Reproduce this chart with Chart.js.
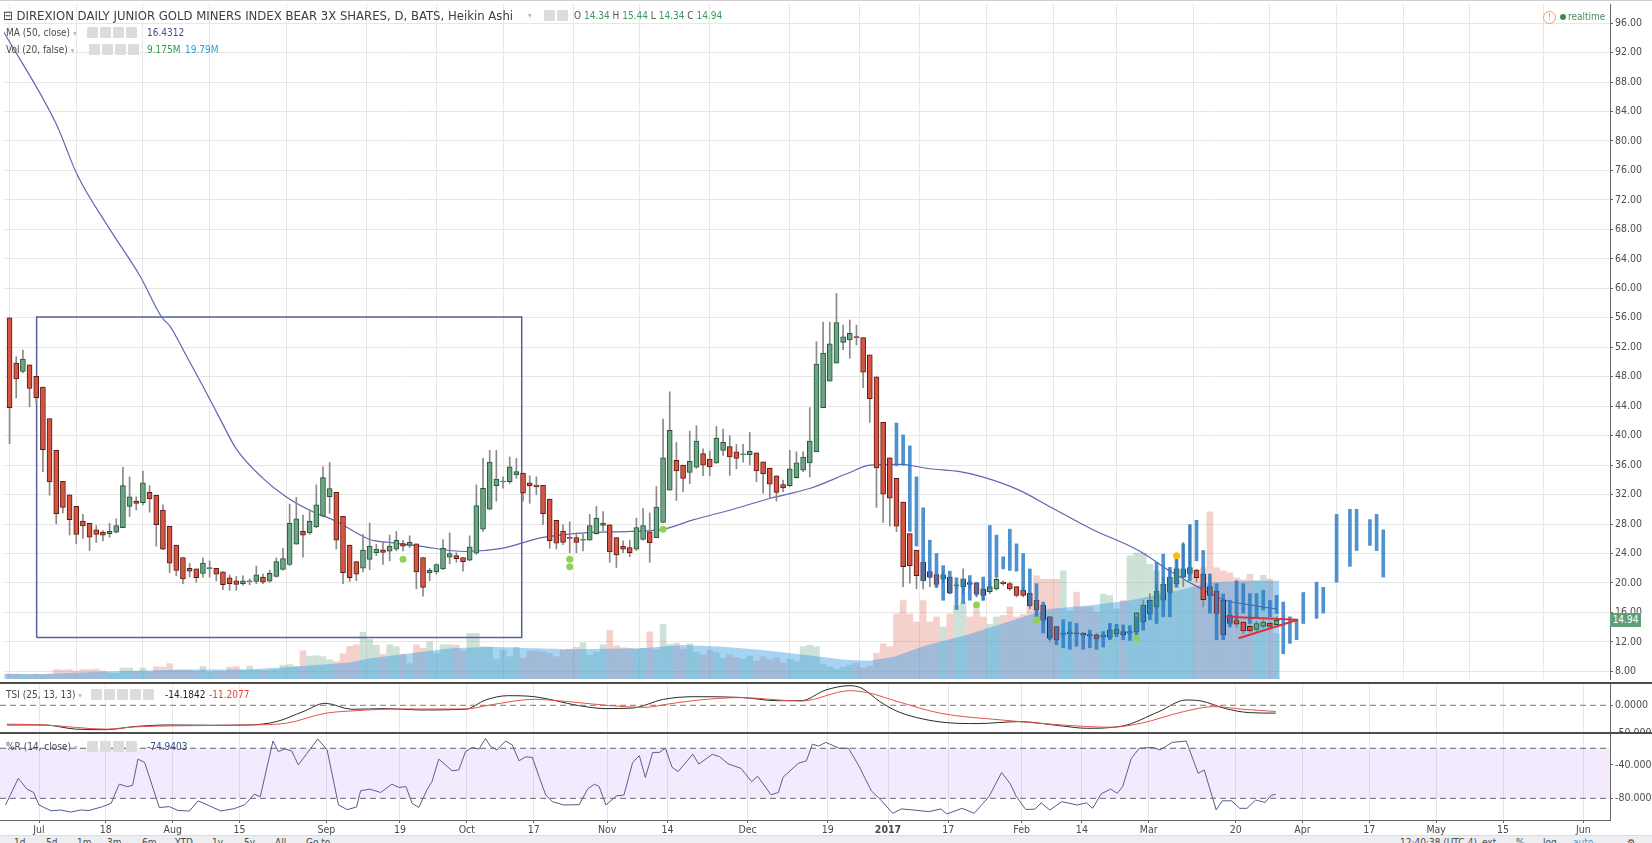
<!DOCTYPE html>
<html>
<head>
<meta charset="utf-8">
<title>JDST Heikin Ashi</title>
<script src="https://cdn.jsdelivr.net/npm/chart.js@4.4.1/dist/chart.umd.min.js"></script>
<style>
  html, body { margin: 0; padding: 0; background: #fff; }
  body { width: 1652px; height: 843px; overflow: hidden; position: relative;
         font-family: "Liberation Sans Narrow", "DejaVu Sans Condensed", "Liberation Sans", sans-serif; color: #4a4a4a; }
  canvas { position: absolute; left: 0; display: block; }
  .t { position: absolute; white-space: nowrap; font-size: 10px; line-height: 14px; z-index: 5; }
  .ico { position: absolute; width: 11px; height: 11px; background: #dcdcdc; border-radius: 1px; z-index: 5; }
  .sep { position: absolute; left: 0; width: 1652px; height: 2px; background: #4d4d4d; z-index: 4; }
  .arr { color: #bbb; font-size: 8px; }
  #toolbar { position: absolute; left: 0; top: 835px; width: 1652px; height: 12px; background: #eceef1; border-top: 1px solid #d9dce0; z-index: 3; }
  #lastLbl { position: absolute; left: 1610px; width: 31px; height: 14px; background: #5d9f76; color: #fff;
             font-size: 10px; line-height: 14px; text-align: center; z-index: 6; }
</style>
</head>
<body>

<canvas id="mainChart" width="1652" height="683" style="top:0"></canvas>
<canvas id="tsiChart" width="1652" height="50" style="top:683px"></canvas>
<canvas id="wrChart" width="1652" height="103" style="top:733px"></canvas>

<div class="sep" style="top:0;height:1px;background:#cfcfcf"></div>
<div class="sep" style="top:682px"></div>
<div class="sep" style="top:732px"></div>

<!-- main pane legend -->
<div class="t" style="left:3px;top:8px;font-size:13px;line-height:16px;color:#3d3d3d">⊟ DIREXION DAILY JUNIOR GOLD MINERS INDEX BEAR 3X SHARES, D, BATS, Heikin Ashi</div>
<div class="t arr" style="left:528px;top:9px">▾</div>
<div class="ico" style="left:544px;top:10px"></div><div class="ico" style="left:557px;top:10px"></div>
<div class="t" style="left:574px;top:9px;color:#555">O <span style="color:#3c9a5f">14.34</span> H <span style="color:#3c9a5f">15.44</span> L <span style="color:#3c9a5f">14.34</span> C <span style="color:#3c9a5f">14.94</span></div>

<div class="t" style="left:6px;top:26px">MA (50, close) <span class="arr">▾</span></div>
<div class="ico" style="left:87px;top:27px"></div><div class="ico" style="left:100px;top:27px"></div>
<div class="ico" style="left:113px;top:27px"></div><div class="ico" style="left:126px;top:27px"></div>
<div class="t" style="left:147px;top:26px;color:#49499a">16.4312</div>

<div class="t" style="left:6px;top:43px">Vol (20, false) <span class="arr">▾</span></div>
<div class="ico" style="left:89px;top:44px"></div><div class="ico" style="left:102px;top:44px"></div>
<div class="ico" style="left:115px;top:44px"></div><div class="ico" style="left:128px;top:44px"></div>
<div class="t" style="left:147px;top:43px;color:#3a9a4a">9.175M</div>
<div class="t" style="left:185px;top:43px;color:#2c9fd6">19.79M</div>

<div style="position:absolute;left:1543px;top:11px;width:11px;height:11px;border:1px solid #eea070;border-radius:50%;color:#e88a3a;font-size:9px;line-height:11px;text-align:center;z-index:5">!</div>
<div style="position:absolute;left:1560px;top:14px;width:6px;height:6px;background:#3f8a55;border-radius:50%;z-index:5"></div>
<div class="t" style="left:1568px;top:10px;color:#4d8a5c">realtime</div>

<!-- TSI pane legend -->
<div class="t" style="left:6px;top:688px">TSI (25, 13, 13) <span class="arr">▾</span></div>
<div class="ico" style="left:91px;top:689px"></div><div class="ico" style="left:104px;top:689px"></div>
<div class="ico" style="left:117px;top:689px"></div><div class="ico" style="left:130px;top:689px"></div>
<div class="ico" style="left:143px;top:689px"></div>
<div class="t" style="left:165px;top:688px;color:#222">-14.1842</div>
<div class="t" style="left:209px;top:688px;color:#e0443a">-11.2077</div>

<!-- %R pane legend -->
<div class="t" style="left:6px;top:740px">%R (14, close) <span class="arr">▾</span></div>
<div class="ico" style="left:87px;top:741px"></div><div class="ico" style="left:100px;top:741px"></div>
<div class="ico" style="left:113px;top:741px"></div><div class="ico" style="left:126px;top:741px"></div>
<div class="t" style="left:147px;top:740px;color:#2f4a86">-74.9403</div>

<div id="lastLbl">14.94</div>

<div id="toolbar"></div>
<div class="t" style="left:14px;top:836px">1d</div>
<div class="t" style="left:46px;top:836px">5d</div>
<div class="t" style="left:77px;top:836px">1m</div>
<div class="t" style="left:107px;top:836px">3m</div>
<div class="t" style="left:142px;top:836px">6m</div>
<div class="t" style="left:175px;top:836px">YTD</div>
<div class="t" style="left:212px;top:836px">1y</div>
<div class="t" style="left:244px;top:836px">5y</div>
<div class="t" style="left:275px;top:836px">All</div>
<div class="t" style="left:306px;top:836px">Go to...</div>
<div class="t" style="left:1400px;top:836px">12:40:38 (UTC-4)</div>
<div class="t" style="left:1482px;top:836px">ext</div>
<div class="t" style="left:1516px;top:836px">%</div>
<div class="t" style="left:1543px;top:836px">log</div>
<div class="t" style="left:1573px;top:836px;color:#3b9ad9">auto</div>
<div class="t" style="left:1627px;top:836px">⚙</div>

<script>
// Heikin Ashi candles, one per trading day; bar index 0 = 1 Jul 2016
const FIRST_BAR = -5;
const haOpen = [
  56.0, 49.84, 48.7, 49.6, 48.05,
  46.6, 42.3, 38.0, 33.8, 31.95,  30.4, 28.4, 28.1, 27.2, 26.9,
  26.7, 26.9, 27.5, 30.4, 31.1,   30.9, 32.3, 31.9, 29.9, 27.7,
  25.15, 23.45, 22.0, 21.9, 21.3, 21.95, 22.0, 21.5, 20.7, 20.3,
  19.9, 20.15, 20.2, 20.8, 20.25, 20.9, 21.85, 22.5, 25.25, 27.0,
  26.8, 27.6, 29.05, 31.7, 32.3,  29.05, 25.15, 22.9, 22.0, 23.2,
  24.1, 24.5, 24.3, 24.6, 25.35,  25.1, 25.3, 23.45, 21.4, 21.5,
  21.9, 23.5, 23.7, 23.45, 23.1,  24.05, 27.3, 30.0, 33.2, 33.7,
  33.75, 34.65, 34.9, 33.6, 33.3, 33.25, 31.4, 28.5, 27.05, 26.2,
  26.15, 25.8, 25.8, 26.7, 27.8,  27.9, 26.15, 25.0, 24.8, 24.6,
  25.9, 26.95, 26.15, 28.2, 32.6, 36.65, 36.0, 35.0, 35.7, 37.55,
  36.8, 36.3, 38.0, 38.5, 37.8,   37.4, 37.4, 37.65, 36.45, 35.6,
  34.55, 33.35, 33.2, 34.3, 35.3, 36.3, 37.8, 43.8, 47.4, 49.85,
  52.65, 52.98, 53.4, 53.3, 50.95, 47.97, 41.8, 37.0, 34.2, 30.97,
  26.7, 24.45, 22.8, 21.55, 21.15, 20.5, 20.8, 19.6, 19.5, 20.05,
  19.97, 19.2, 18.8, 19.2, 20.1,  19.9, 19.5, 19.0, 18.6, 17.65,
  16.98, 15.4, 14.07, 13.0, 13.1, 13.2, 13.15, 13.0, 12.95, 12.7,
  12.6, 13.1, 13.4, 13.2, 13.4,   14.74, 15.8, 16.75, 17.65, 18.7,
  19.9, 20.8, 21.3, 21.75, 21.2,  19.5, 18.9, 17.65, 15.6, 14.9,
  14.7, 14.1, 13.7, 14.1, 14.55,  14.34
];
const haHigh = [
  56.0, 50.7, 51.6, 49.6, 48.05,
  46.6, 42.3, 38.0, 33.8, 31.95,  30.4, 29.3, 28.1, 27.8, 27.1,
  28.1, 28.7, 35.7, 34.4, 31.7,   35.2, 33.2, 31.9, 30.6, 27.7,
  25.15, 23.45, 22.65, 21.9, 23.4, 23.0, 22.0, 21.5, 21.1, 20.9,
  20.95, 20.55, 22.3, 21.2, 21.75, 23.4, 24.7, 30.7, 31.6, 29.2,
  29.9, 33.3, 35.75, 36.35, 32.3, 29.05, 25.15, 22.9, 26.6, 28.15,
  25.25, 25.5, 26.5, 27.0, 25.8,  26.4, 25.3, 23.45, 22.0, 22.6,
  25.9, 26.8, 24.1, 23.45, 26.4,  33.3, 36.9, 38.0, 38.0, 34.4,
  37.1, 36.9, 34.9, 34.55, 34.4,  33.25, 31.4, 28.5, 27.9, 28.3,
  26.8, 26.6, 29.3, 30.4, 29.7,   27.9, 26.15, 25.7, 25.8, 28.8,
  30.1, 29.5, 33.1, 42.25, 45.95, 39.1, 36.0, 40.6, 41.35, 38.2,
  37.9, 41.25, 40.9, 40.0, 38.8,  38.8, 40.45, 37.65, 36.45, 35.6,
  34.55, 33.95, 38.0, 37.8, 37.8, 43.8, 52.75, 55.4, 55.4, 59.3,
  55.0, 55.7, 55.0, 53.3, 50.95,  47.97, 41.8, 37.0, 34.2, 30.97,
  26.7, 24.45, 22.8, 21.55, 21.15, 21.5, 20.8, 20.0, 21.9, 20.3,
  19.97, 19.2, 20.3, 20.8, 20.3,  20.1, 19.5, 19.4, 18.6, 17.65,
  16.98, 15.4, 14.07, 13.6, 13.8, 13.4, 13.3, 13.3, 13.2, 13.3,
  14.5, 14.3, 14.1, 13.7, 16.0,   17.65, 18.55, 19.8, 20.8, 22.1,
  23.2, 25.5, 27.9, 21.9, 21.2,   21.2, 18.9, 17.65, 17.0, 15.2,
  14.7, 14.2, 14.8, 15.0, 14.7,   15.44
];
const haLow = [
  38.9, 45.1, 48.5, 43.9, 44.25,
  35.1, 31.9, 28.0, 29.5, 26.5,   25.3, 26.05, 24.4, 25.5, 25.7,
  26.2, 26.8, 27.5, 29.0, 29.9,   30.6, 29.6, 25.0, 24.5, 21.4,
  21.0, 19.9, 20.8, 20.1, 20.8,   20.8, 20.3, 19.1, 19.0, 19.0,
  19.7, 19.75, 19.9, 19.9, 20.1,  20.8, 21.75, 22.35, 25.25, 23.5,
  26.6, 27.5, 28.95, 29.45, 24.6, 19.9, 20.2, 20.3, 21.5, 21.8,
  23.7, 22.5, 23.0, 24.35, 24.35, 24.8, 19.2, 18.2, 20.3, 21.2,
  21.8, 22.6, 22.8, 21.6, 23.0,   23.9, 27.0, 29.95, 31.1, 32.85,
  33.5, 34.2, 31.1, 30.8, 31.96,  27.9, 24.7, 24.6, 25.2, 24.1,
  24.1, 24.35, 25.8, 26.6, 27.05, 22.8, 22.1, 24.1, 23.55, 24.4,
  25.8, 22.8, 26.15, 28.2, 32.6,  31.2, 32.4, 33.5, 35.55, 34.55,
  34.55, 36.2, 37.3, 34.6, 35.5,  36.4, 36.0, 33.75, 32.2, 31.5,
  31.1, 32.4, 33.1, 34.2, 35.1,   34.4, 37.8, 43.8, 47.4, 49.85,
  51.65, 50.5, 52.3, 46.5, 41.8,  30.25, 28.2, 27.7, 26.95, 19.5,
  19.97, 19.2, 19.2, 19.5, 19.4,  20.0, 18.55, 19.2, 18.55, 19.2,
  18.1, 17.65, 18.55, 19.0, 19.7, 18.99, 18.1, 18.1, 16.5, 15.9,
  14.5, 12.05, 11.8, 12.6, 12.8,  12.9, 12.7, 12.5, 12.2, 12.3,
  12.5, 13.0, 12.8, 13.0, 13.2,   14.5, 15.7, 16.5, 17.4, 18.6,
  19.7, 19.5, 21.0, 20.1, 16.75,  16.5, 14.96, 12.5, 13.9, 13.9,
  13.1, 13.3, 13.4, 13.9, 14.0,   14.34
];
const haClose = [
  43.8, 47.7, 50.4, 46.4, 45.15,
  38.1, 33.7, 29.4, 30.25, 28.6,  26.6, 27.75, 26.2, 26.6, 26.5,
  27.0, 27.8, 33.2, 31.7, 30.8,   33.6, 31.4, 27.9, 24.6, 22.7,
  21.7, 20.55, 21.6, 20.7, 22.7,  22.05, 21.2, 19.75, 19.9, 19.8,
  20.3, 20.25, 21.1, 20.1, 21.3,  22.9, 23.3, 28.1, 28.7, 26.5,
  28.4, 30.6, 34.3, 32.8, 25.8,   21.4, 20.7, 21.2, 24.45, 25.0,
  24.6, 24.15, 25.0, 25.8, 25.0,  25.5, 21.5, 19.4, 21.7, 22.5,
  24.7, 24.0, 23.3, 22.9, 24.9,   30.5, 32.85, 36.4, 34.1, 33.8,
  35.75, 35.1, 32.2, 33.2, 33.05, 29.4, 25.7, 25.4, 25.5, 26.05,
  25.5, 25.9, 27.8, 28.8, 28.1,   24.2, 23.8, 24.6, 24.1, 27.5,
  27.8, 25.45, 30.3, 37.0, 40.7,  35.2, 34.2, 36.5, 39.25, 36.0,
  35.75, 39.65, 39.1, 37.1, 36.9, 37.5, 37.85, 35.2, 34.8, 33.4,
  32.3, 32.9, 35.5, 36.3, 37.1,   39.25, 49.7, 51.2, 52.45, 55.35,
  53.4, 53.9, 53.3, 48.6, 45.0,   35.6, 32.05, 31.5, 27.7, 22.2,
  22.35, 21.0, 20.3, 20.8, 19.8,  21.1, 18.65, 19.7, 20.55, 19.8,
  18.55, 18.3, 19.5, 20.5, 19.9,  19.2, 18.3, 18.3, 16.84, 16.3,
  14.96, 12.5, 12.28, 13.2, 13.35, 13.1, 12.9, 12.8, 12.4, 12.9,
  13.6, 13.7, 12.95, 13.4, 15.95, 16.98, 17.65, 18.9, 19.8, 20.8,
  21.9, 21.9, 22.1, 20.7, 17.74,  18.3, 15.86, 12.95, 14.5, 14.4,
  13.5, 13.5, 14.5, 14.7, 14.1,   14.94
];
// daily volume, millions
const volume = [
  1.0, 1.0, 0.9, 0.9, 1.0,
  0.9, 1.0, 1.9, 1.8, 1.9,  1.6, 1.9, 1.9, 2.0, 1.6,  1.2, 1.1, 2.2, 2.2, 1.5,
  2.2, 1.4, 2.5, 2.4, 3.1,  1.8, 1.8, 1.7, 1.6, 2.5,  1.4, 1.6, 1.5, 2.4, 2.5,
  1.8, 2.6, 1.8, 1.7, 1.8,  1.9, 2.8, 2.9, 2.5, 5.7,  4.6, 4.7, 4.5, 3.9, 3.5,
  5.1, 6.6, 6.9, 9.4, 8.0,  6.8, 5.0, 6.9, 6.5, 5.0,  3.1, 6.9, 6.2, 7.5, 5.1,
  6.9, 6.9, 6.8, 5.7, 9.2,  9.2, 6.5, 6.4, 3.9, 5.8,  4.5, 6.4, 4.2, 5.7, 5.7,
  5.5, 5.2, 4.5, 5.7, 6.0,  6.4, 7.3, 4.8, 5.4, 6.9,  9.8, 6.7, 6.3, 6.2, 6.0,
  6.2, 9.5, 6.0, 11.0, 7.0, 7.2, 6.0, 7.1, 5.4, 4.8,  5.8, 5.3, 4.2, 4.9, 4.3,
  4.0, 4.6, 3.6, 4.5, 3.9,  4.3, 3.2, 4.0, 3.5, 6.5,  6.8, 6.5, 3.0, 2.5, 2.0,
  2.4, 2.8, 3.2, 2.2, 2.6,  5.2, 7.1, 6.5, 13.1, 15.8, 13.1, 11.5, 15.8, 11.5, 12.5,
  10.5, 13.1, 14.8, 15.5, 12.5, 14.1, 12.5, 11.0, 12.5, 12.8, 14.5, 12.5, 13.0, 14.5, 20.8,
  20.1, 20.1, 20.1, 21.8, 13.8, 17.5, 14.5, 14.5, 13.5, 17.1, 16.8, 14.1, 15.8, 24.8, 25.4,
  25.4, 23.1, 21.8, 19.1, 20.4, 22.4, 20.0, 22.1, 20.5, 22.4, 33.7, 22.4, 21.8, 21.4, 20.4,
  20.0, 21.1, 19.8, 20.9, 20.1, 9.175
];
// Vol MA(20), sampled along the area edge
const volMaIdx = [-5.8, 0.3, 9.4, 21.6, 30.8, 36.9, 46.1, 49.1, 55.2, 61.3, 67.4, 73.5, 79.6, 89.8, 95.9, 102,
                  107.9, 114.1, 120.2, 123.9, 127.6, 132.6, 138.5, 144.6, 150.7, 156.8, 162.9, 169.1, 175.1, 181.3, 185.4];
const volMaVal = [1.0, 1.0, 1.5, 1.9, 1.9, 2.4, 3.3, 4.2, 5.2, 6.2, 6.5, 6.2, 6.0, 6.2, 6.85, 6.5,
                  5.85, 4.9, 3.9, 3.7, 4.5, 6.85, 8.85, 11.5, 14.1, 14.8, 15.8, 17.5, 19.5, 19.8, 19.8];
// MA(50, close)
const maIdx = [-6, 2.0, 5.2, 9.9, 14.6, 17.8, 19.1, 21.3, 24.0, 26.6, 29.0, 33.0, 36.4, 40.4, 43.9,
               49.0, 51.9, 56.4, 63.3, 68.8, 74.8, 81.2, 88.2, 93.1, 97.6, 102.7, 109.1, 115.1, 121.0, 124.0,
               128.5, 133.0, 137.5, 140.9, 146.4, 151.3, 157.3, 164.3, 169.3, 173.3, 177.3, 181.2, 185.2];
const maVal = [95.0, 82.3, 75.3, 68.2, 61.6, 56.1, 54.8, 51.2, 46.7, 42.2, 38.2, 34.2, 31.75, 29.7, 28.4,
               25.9, 25.5, 25.0, 24.27, 24.7, 26.15, 26.8, 27.0, 27.3, 28.6, 29.8, 31.5, 32.85, 35.0, 36.0,
               36.1, 35.5, 35.1, 34.4, 32.6, 30.2, 27.3, 24.4, 21.45, 19.4, 17.65, 17.0, 16.43];
// projected bars pattern (blue), from bar 128
const PAT_FIRST = 128;
const patHigh = [41.7, 40.1, 38.6, 34.4, 30.2, 25.8, 24.0, 22.35, 21.6, 20.7,
  20.3, 21.0, 20.1, 20.8, 27.8, 26.5, 23.55, 27.3, 25.3, 24.0,
  21.9, 19.9, 17.4, 15.4, 14.1, 15.0, 14.7, 14.5, 13.2, 13.6,
  13.0, 13.4, 14.5, 14.4, 14.3, 14.2, 15.4, 16.75, 17.6, 22.8,
  23.9, 22.1, 23.4, 25.3, 27.9, 28.5, 24.4, 21.2, 19.9, 18.5,
  17.65, 20.3, 19.9, 18.55, 18.55, 19.0, 17.65, 18.3, 17.4, 15.4,
  15.0, 18.7, null, 20.1, 19.4, null, 29.3, null, 30.0, 30.0,
  null, 28.6, 29.3, 27.2];
const patLow = [35.9, 36.0, 27.0, 25.0, 20.3, 20.7, 19.4, 17.65, 18.55, 16.4,
  17.2, 17.65, 18.3, 17.65, 19.2, 20.8, 21.9, 21.7, 21.6, 18.8,
  17.0, 15.0, 13.2, 12.3, 11.6, 11.2, 11.0, 11.4, 11.0, 11.2,
  11.0, 11.3, 12.3, 12.7, 12.3, 12.2, 12.95, 13.6, 15.0, 14.5,
  15.4, 15.4, 19.4, 20.7, 20.3, 23.0, 19.4, 15.9, 12.3, 12.3,
  14.1, 15.0, 15.9, 14.5, 15.4, 16.3, 15.4, 15.85, 10.4, 11.8,
  12.3, 14.5, null, 15.2, 15.9, null, 20.1, null, 22.25, 24.4,
  null, 25.1, 24.4, 20.8];
// signal dots
const dotIdx = [54, 79, 79, 93, 140, 149, 164];
const dotVal = [23.2, 23.2, 22.2, 27.3, 17.0, 14.96, 12.4];
const starIdx = [170];
const starVal = [23.7];
// drawings
const boxIdx = [-0.94, 71.8];
const boxVal = [12.6, 56.1];
const wedgeIdx = [177.5, 188.2, 179.3];
const wedgeVal = [15.4, 15.0, 12.5];
// TSI (25,13,13)
const tsiIdx = [-4.8, 0.8, 5.5, 10.1, 14.2, 19.6, 26.1, 31.5, 35.5, 39.5, 42.8, 46.8, 52.1, 56.9, 63.8, 66.8,
                70.1, 74.1, 80.7, 84.8, 88.8, 93.4, 98.1, 105, 110.4, 114, 117.7, 121.3, 123.1, 125.8, 128.5,
                132.2, 135.8, 140.3, 146.7, 153, 156.7, 162.1, 167.5, 171.6, 173.9, 177.5, 181.1, 185];
const tsiVal = [-35.5, -35.5, -43, -44, -38.5, -35.5, -36, -35.5, -29.5, -11.5, 3.6, -7.2, -6, -8.5, -7.2, 9.5,
                17.3, 15.5, -0.5, -6, -5, 10.7, 15.5, 14.2, 8.3, 8.3, 27.6, 35.4, 30.6, 6.5, -11.5,
                -24.7, -31.3, -33, -29.5, -37.3, -41.5, -37.3, -11.5, 9.5, 7.6, -6, -13.3, -14.18];
const sigIdx = [-4.8, 0.8, 10.1, 14.2, 20.8, 31.5, 36.9, 42.8, 47.5, 54.2, 63.8, 67.5, 74.1, 78.1, 87.5, 90.8,
                94.2, 98.7, 105, 114, 121.3, 124, 128.5, 134.9, 144, 153, 160.3, 164.8, 171.2, 175.7, 180.1, 185];
const sigVal = [-34, -35.5, -43, -39, -37, -35.5, -32.5, -14.5, -9.7, -6.6, -6.6, 0.6, 10.8, 7.7, -2.5, -3.6,
                2.4, 9.5, 13.8, 7.6, 26.3, 22.6, 6.5, -14.5, -26.5, -35.5, -39.6, -32.5, -11.5, -2.4, -7.2, -11.21];
// Williams %R (14)
const wrIdx = [-5.0, -3.1, -1.8, -0.8, 0, 1.8, 3.2, 4.8, 6.2, 7.5, 9.5, 10.8, 12.0, 13.2, 14.0, 14.8, 15.8, 18.0,
  19.5, 20.8, 22.5, 23.8, 25.5, 27.2, 29.2, 30.8, 32.2, 33.1, 35.0, 35.8, 36.8, 37.8, 38.8, 40.1, 41.7, 43.1,
  44.8, 46.1, 47.5, 48.1, 49.5, 51.1, 52.8, 53.8, 54.9, 55.8, 56.8, 58.1, 58.8, 59.8, 60.8, 61.8, 62.8, 63.8,
  64.8, 65.8, 66.8, 67.5, 68.5, 69.8, 70.8, 71.8, 72.8, 73.8, 74.8, 75.8, 76.8, 78.5, 80.8, 82.1, 83.1, 83.8,
  84.8, 86.4, 87.5, 88.8, 89.8, 90.7, 91.8, 92.8, 93.7, 94.7, 95.6, 97.8, 98.7, 100.7, 101.8, 103.1, 105.0,
  106.6, 107.5, 109.5, 110.6, 111.3, 113.6, 114.8, 115.7, 116.6, 117.7, 119.7, 121.1, 122.7, 124.5, 125.8,
  127.7, 129.0, 130.8, 133.1, 134.9, 135.8, 138.1, 139.9, 142.1, 144.0, 145.3, 146.2, 147.6, 149.0, 149.9,
  151.2, 153.0, 155.3, 156.7, 157.6, 158.9, 160.3, 161.3, 162.1, 163.4, 164.6, 166.6, 167.7, 169.5, 171.6,
  173.4, 174.3, 176.1, 177.0, 178.4, 179.6, 180.7, 182.0, 183.4, 184.3, 185.0];
const wrVal = [-88, -56, -69, -73, -88, -95, -94, -96.5, -94, -94.6, -90, -86, -63, -66, -64.5, -33, -37, -91,
  -90, -94.6, -95.2, -83, -89, -95.2, -92.4, -87.6, -75, -78, -11.3, -24, -20.8, -23.2, -40, -26, -8.9, -22,
  -88, -93.6, -90.4, -71, -69, -73, -63, -67, -66, -86, -91, -69, -59.6, -33, -40, -47, -46, -24,
  -19, -21, -8.2, -17.4, -22, -11.3, -16, -35, -30.3, -31, -54, -76, -84, -88, -87.6, -68.5, -63, -66,
  -88, -77, -76, -37, -28.8, -55, -25, -25, -20, -42.8, -48, -27, -39, -27.3, -30, -38.8, -44,
  -60, -53.5, -75.8, -73, -54.7, -38, -35, -15, -17.4, -13, -20, -20, -42, -71, -81,
  -98, -92.7, -94, -96, -92.7, -98.8, -92, -98, -78, -49, -62.8, -78, -93.4, -93, -85.5,
  -94, -84, -88, -85.5, -92, -74.6, -69, -74, -66, -32, -20, -19, -22, -13, -11.3,
  -50, -46, -94, -83, -83, -92, -92, -82, -85, -76.6, -74.94];
// axes
const tickIdx = [0, 10, 20, 30, 43, 54, 64, 74, 85, 94, 106, 118, 127, 136, 147, 156, 166, 179, 189, 199, 209, 219, 231];
const tickLabels = ['Jul', '18', 'Aug', '15', 'Sep', '19', 'Oct', '17', 'Nov', '14', 'Dec', '19', '2017',
                    '17', 'Feb', '14', 'Mar', '20', 'Apr', '17', 'May', '15', 'Jun'];
const priceTicks = [8, 12, 16, 20, 24, 28, 32, 36, 40, 44, 48, 52, 56, 60, 64, 68, 72, 76, 80, 84, 88, 92, 96];
const tsiTicks = [0, -50];
const wrTicks = [-40, -80];

const FONT = '"Liberation Sans Narrow","DejaVu Sans Condensed","Liberation Sans",sans-serif';
const X_MIN = -5.834, X_MAX = 235.0;
const GRID = '#e7e7e7';
const UP = '#6ba583', UP_EDGE = '#225437', DOWN = '#d75442', DOWN_EDGE = '#5b1a13';

Chart.defaults.font.family = FONT;
Chart.defaults.font.size = 10.5;
Chart.defaults.color = '#4c4c4c';
Chart.defaults.animation = false;
Chart.defaults.events = [];

const pts = (xs, ys) => xs.map((x, k) => ({ x: x, y: ys[k] }));

function timeAxis(withLabels) {
  return {
    type: 'linear', min: X_MIN, max: X_MAX, offset: false,
    afterBuildTicks: s => { s.ticks = tickIdx.map(v => ({ value: v })); },
    ticks: {
      display: withLabels, autoSkip: false, maxRotation: 0, padding: 1, color: '#4a4a4a',
      font: c => ({ family: FONT, size: 10.5, weight: (c.tick && c.tick.value === 127) ? 'bold' : 'normal' }),
      callback: (v, i) => tickLabels[i]
    },
    grid: { color: GRID, drawTicks: withLabels, tickLength: 3, tickColor: '#666' },
    border: { display: withLabels, color: '#666' },
    afterFit: s => { s.paddingLeft = 0; s.paddingRight = 0; s.height = withLabels ? 16 : 0; }
  };
}

function valueAxis(min, max, ticks, digits, gridOnChart) {
  return {
    position: 'right', min: min, max: max,
    afterBuildTicks: s => { s.ticks = ticks.map(v => ({ value: v })); },
    ticks: { callback: v => v.toFixed(digits), padding: 2, color: '#4c4c4c' },
    grid: { color: GRID, drawOnChartArea: gridOnChart, tickLength: 3, tickColor: '#666' },
    border: { display: true, color: '#666' },
    afterFit: s => { s.width = 42; s.paddingTop = 0; s.paddingBottom = 0; }
  };
}

const bars = haOpen.map((o, k) => k + FIRST_BAR);
const isUp = haOpen.map((o, k) => haClose[k] >= o);

const patternBars = [];
patHigh.forEach((h, k) => { if (h !== null) patternBars.push({ x: PAT_FIRST + k, y: [patLow[k], h] }); });

const mainChart = new Chart(document.getElementById('mainChart'), {
  type: 'bar',
  data: {
    datasets: [
      {
        label: 'Volume', yAxisID: 'vol', order: 10, grouped: false, barThickness: 6,
        data: pts(bars, volume),
        backgroundColor: isUp.map(u => u ? 'rgba(107,165,131,0.33)' : 'rgba(215,84,66,0.27)')
      },
      {
        type: 'line', label: 'Vol MA', yAxisID: 'vol', order: 9,
        data: pts(volMaIdx, volMaVal), fill: 'origin', borderWidth: 0, pointRadius: 0,
        backgroundColor: 'rgba(60,160,230,0.45)'
      },
      {
        type: 'line', label: 'Box', order: 8,
        data: [
          { x: boxIdx[0], y: boxVal[0] }, { x: boxIdx[0], y: boxVal[1] },
          { x: boxIdx[1], y: boxVal[1] }, { x: boxIdx[1], y: boxVal[0] },
          { x: boxIdx[0], y: boxVal[0] }
        ],
        borderColor: '#56619a', borderWidth: 1.5, pointRadius: 0, fill: false
      },
      {
        type: 'line', label: 'MA 50', order: 7, data: pts(maIdx, maVal),
        borderColor: '#6464b4', borderWidth: 1.2, pointRadius: 0, fill: false, cubicInterpolationMode: 'monotone'
      },
      {
        label: 'Wick', order: 6, grouped: false, barThickness: 1,
        data: bars.map((x, k) => ({ x: x, y: [haLow[k], haHigh[k]] })),
        backgroundColor: '#8a8a8a'
      },
      {
        label: 'Body', order: 5, grouped: false, barThickness: 5, minBarLength: 1, borderSkipped: false,
        data: bars.map((x, k) => ({ x: x, y: [haOpen[k], haClose[k]] })),
        backgroundColor: isUp.map(u => u ? UP : DOWN),
        borderColor: isUp.map(u => u ? UP_EDGE : DOWN_EDGE), borderWidth: 1
      },
      {
        label: 'Pattern', order: 4, grouped: false, barThickness: 3,
        data: patternBars, backgroundColor: 'rgba(40,122,196,0.82)'
      },
      {
        type: 'line', label: 'Wedge top', order: 3,
        data: pts(wedgeIdx.slice(0, 2), wedgeVal.slice(0, 2)),
        borderColor: '#e0303a', borderWidth: 2, pointRadius: 0, fill: false
      },
      {
        type: 'line', label: 'Wedge bottom', order: 3,
        data: pts(wedgeIdx.slice(1).reverse(), wedgeVal.slice(1).reverse()),
        borderColor: '#e0303a', borderWidth: 2, pointRadius: 0, fill: false
      },
      {
        type: 'line', label: 'Signals', order: 2, showLine: false, data: pts(dotIdx, dotVal),
        pointRadius: 3.5, pointBackgroundColor: '#8fd255', pointBorderWidth: 0
      },
      {
        type: 'line', label: 'Signal 2', order: 2, showLine: false, data: pts(starIdx, starVal),
        pointRadius: 3.5, pointBackgroundColor: '#f4c20d', pointBorderWidth: 0
      }
    ]
  },
  options: {
    responsive: false, maintainAspectRatio: false,
    layout: { padding: 0 },
    plugins: { legend: { display: false }, tooltip: { enabled: false } },
    scales: {
      x: timeAxis(false),
      y: valueAxis(6.96, 98.59, priceTicks, 2, true),
      vol: { display: false, min: 0, max: 136 }
    }
  }
});

new Chart(document.getElementById('tsiChart'), {
  type: 'line',
  data: {
    datasets: [
      { label: 'zero', data: [{ x: X_MIN, y: 0 }, { x: X_MAX, y: 0 }], borderColor: '#777',
        borderDash: [6, 4], borderWidth: 1, pointRadius: 0 },
      { label: 'Signal', data: pts(sigIdx, sigVal), borderColor: '#e5534b', borderWidth: 1,
        pointRadius: 0, cubicInterpolationMode: 'monotone' },
      { label: 'TSI', data: pts(tsiIdx, tsiVal), borderColor: '#2a2a2a', borderWidth: 1,
        pointRadius: 0, cubicInterpolationMode: 'monotone' }
    ]
  },
  options: {
    responsive: false, maintainAspectRatio: false, layout: { padding: 0 },
    plugins: { legend: { display: false }, tooltip: { enabled: false } },
    scales: { x: timeAxis(false), y: valueAxis(-50, 40.2, tsiTicks, 4, false) }
  }
});

new Chart(document.getElementById('wrChart'), {
  type: 'line',
  data: {
    datasets: [
      { label: 'band', data: [{ x: X_MIN, y: -20 }, { x: X_MAX, y: -20 }], fill: { value: -80 },
        backgroundColor: 'rgba(170,90,240,0.13)', borderColor: '#666', borderDash: [6, 4], borderWidth: 1, pointRadius: 0 },
      { label: 'low', data: [{ x: X_MIN, y: -80 }, { x: X_MAX, y: -80 }], borderColor: '#666',
        borderDash: [6, 4], borderWidth: 1, pointRadius: 0 },
      { label: '%R', data: pts(wrIdx, wrVal), borderColor: '#4b5e8c', borderWidth: 1, pointRadius: 0 }
    ]
  },
  options: {
    responsive: false, maintainAspectRatio: false, layout: { padding: 0 },
    plugins: { legend: { display: false }, tooltip: { enabled: false } },
    scales: { x: timeAxis(true), y: valueAxis(-106, -1.7, wrTicks, 4, false) }
  }
});

// last price tag on the price axis
const lastY = mainChart.scales.y.getPixelForValue(haClose[haClose.length - 1]);
document.getElementById('lastLbl').style.top = (lastY - 7) + 'px';
</script>
</body>
</html>
